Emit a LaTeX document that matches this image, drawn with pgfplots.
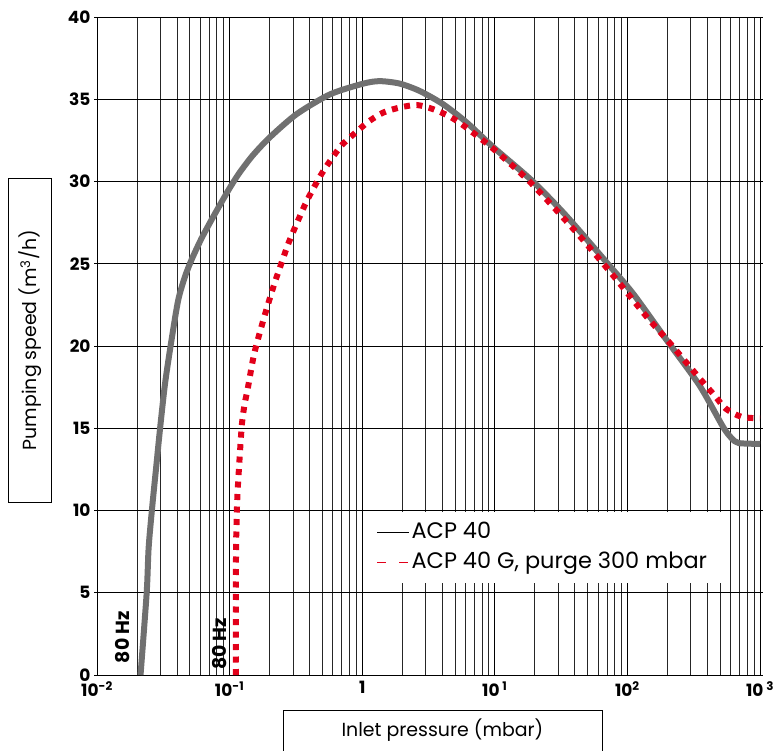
\documentclass[border=0pt]{standalone}
\usepackage{fontspec}
\setmainfont{Poppins}
\usepackage{pgfplots}
\pgfplotsset{compat=1.18}
\definecolor{acpgray}{RGB}{112,112,112}
\definecolor{acpred}{RGB}{226,0,26}
\begin{document}
\begin{tikzpicture}
\useasboundingbox (-97bp,-76bp) rectangle (679bp,675bp);
\begin{axis}[
  scale only axis, width=663bp, height=658bp,
  xmode=log, xmin=1e-2, xmax=1e3, ymin=0, ymax=40,
  xtick={1e-2,1e-1,1,10,100,1000},
  xticklabels={10\textsuperscript{-2},10\textsuperscript{-1},1,10\,\textsuperscript{1},10\textsuperscript{2},10\,\textsuperscript{3}},
  minor xtick={2e-2,3e-2,4e-2,5e-2,6e-2,7e-2,8e-2,9e-2,
               2e-1,3e-1,4e-1,5e-1,6e-1,7e-1,8e-1,9e-1,
               2,3,4,5,6,7,8,9,20,30,40,50,60,70,80,90,
               200,300,400,500,600,700,800,900},
  ytick={0,5,10,15,20,25,30,35,40},
  yticklabels={0,5,10,15,20,25,30,35,40},
  grid=both,
  major grid style={black, line width=0.75bp},
  minor grid style={black!85, line width=0.65bp},
  axis line style={black, line width=0.8bp},
  tick align=outside,
  xtick style={draw=none},
  minor tick length=0pt,
  ytick style={black, line width=0.7bp},
  major tick length=3bp,
  ticklabel style={font=\bfseries\fontsize{17}{17}\selectfont},
  xlabel={Inlet pressure (mbar)},
  ylabel={Pumping speed (m\textsuperscript{3}/h)},
  xlabel style={at={(rel axis cs:0.521,-0.0843)}, anchor=center, draw, line width=0.8bp,
    minimum width=319bp, minimum height=41bp, inner sep=0pt, font=\fontsize{19}{22}\selectfont},
  ylabel style={at={(rel axis cs:-0.101,0.509)}, anchor=center, draw, line width=0.8bp,
    minimum width=324bp, minimum height=43bp, inner sep=0pt, font=\fontsize{19}{22}\selectfont},
  legend style={at={(0.402,0.248)}, anchor=north west, draw=none, fill=white,
    font=\fontsize{22.5}{27}\selectfont, inner xsep=13bp, inner ysep=10bp, row sep=9bp,
    nodes={inner xsep=2bp, inner ysep=0bp, text height=16bp, text depth=5bp}},
  legend cell align=left,
  legend image code/.code={\draw[#1] (0bp,0bp) -- (32bp,0bp);},
]
\addplot[acpgray, line width=6bp, line join=round, smooth, tension=0.45, forget plot] table {
x y
0.0213 0
0.0237 5
0.0245 7.7
0.0260 10.1
0.0280 12.7
0.0300 15.1
0.0327 17.8
0.0367 20.5
0.0410 22.8
0.0460 24.2
0.0517 25.25
0.0615 26.55
0.0752 27.85
0.0976 29.45
0.118 30.5
0.150 31.6
0.202 32.7
0.321 34.1
0.573 35.3
1.02 35.95
1.36 36.1
1.92 35.95
2.72 35.5
4.07 34.7
6.11 33.6
9.7 32.1
19.4 30.0
34.7 27.9
69.4 25.1
110 23.2
196 20.4
350 17.6
525 15.1
610 14.4
690 14.1
1000 14.05
};
\addplot[acpred, line width=6bp, dash pattern=on 6bp off 6.5bp, smooth, tension=0.45, forget plot] table {
x y
0.1115 0
0.1115 5
0.112 8
0.1135 10
0.115 11.2
0.119 13.2
0.124 15.3
0.130 16.5
0.137 17.4
0.153 19.5
0.180 21.6
0.214 23.6
0.250 25.2
0.286 26.5
0.371 28.6
0.43 29.6
0.497 30.5
0.59 31.4
0.70 32.2
0.87 32.9
1.12 33.65
1.45 34.2
1.93 34.5
2.58 34.65
3.42 34.4
4.57 33.95
5.93 33.35
9.7 32.0
18.8 29.9
42.4 26.8
77.8 24.3
139 21.8
208 20.2
371 17.8
454 17.0
550 16.2
721 15.7
1000 15.6
};
\addlegendimage{black, line width=0.9bp}
\addlegendentry{ACP 40}
\addlegendimage{acpred, line width=0.9bp, dash pattern=on 9bp off 13bp}
\addlegendentry{ACP 40 G, purge 300 mbar}
\node[rotate=90, font=\bfseries\fontsize{19}{19}\selectfont] at (axis cs:0.0157,2.3) {80 Hz};
\node[rotate=90, font=\bfseries\fontsize{19}{19}\selectfont] at (axis cs:0.0838,1.9) {80 Hz};
\end{axis}
\end{tikzpicture}
\end{document}
